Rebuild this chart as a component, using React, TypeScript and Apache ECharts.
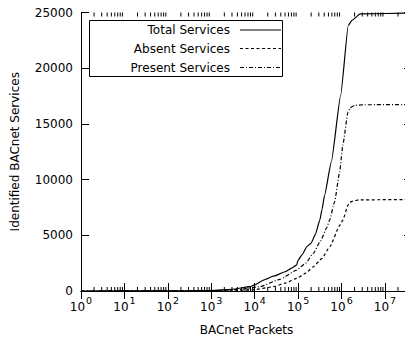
import React, { useEffect, useRef } from "react";
import * as echarts from "echarts";

const FONT = "DejaVu Sans";

// x: BACnet packets, y: identified services
const totalX = [1, 300, 1000, 3000, 7800, 10000, 16000, 28000, 50000, 71000, 93000, 100000, 126000, 158000, 200000, 251000, 316000, 355000, 407000, 582000, 955000, 1430000, 1740000, 2690000, 42000000];
const totalY = [0, 10, 40, 150, 385, 550, 985, 1350, 1730, 2050, 2350, 2780, 3300, 3970, 4300, 5100, 6362, 7300, 8600, 11585, 17560, 23834, 24300, 24880, 24950];

const absentX = [1, 3000, 10000, 27000, 50000, 93000, 150000, 224000, 350000, 537000, 912000, 1070000, 1410000, 1580000, 1820000, 2510000, 42000000];
const absentY = [0, 10, 120, 385, 700, 1138, 1600, 2177, 2900, 3970, 5900, 6362, 7706, 7980, 8064, 8180, 8216];

const presentX = [1, 1000, 4000, 13200, 38000, 93000, 150000, 224000, 330000, 457000, 531000, 692000, 906000, 1070000, 1410000, 1580000, 2000000, 3160000, 42000000];
const presentY = [0, 15, 120, 385, 1048, 1882, 2500, 3378, 4500, 5700, 6362, 8000, 10690, 13080, 16065, 16450, 16666, 16720, 16730];

const seriesNames = ["Total Services", "Absent Services", "Present Services"];
const xMin = 1;
const xMax = 42000000;
const yMin = 0;
const yMax = 25000;
const yStep = 5000;

const minorTicks: number[] = [];
for (let e = 0; e <= 7; e++) {
  for (let m = 2; m <= 9; m++) {
    const v = m * Math.pow(10, e);
    if (v < xMax) minorTicks.push(v);
  }
}

const zip = (xs: number[], ys: number[]) => xs.map((x, i) => [x, ys[i]]);

const dashes: any[] = ["solid", [3, 2.5], [4, 2, 1, 2]];

export default function App() {
  const ref = useRef<HTMLDivElement>(null);
  useEffect(() => {
    if (!ref.current) return;
    const chart = echarts.init(ref.current, null, { renderer: "svg" });
    const labelFmt = (v: number) => {
      const e = Math.round(Math.log10(v));
      if (Math.abs(Math.pow(10, e) - v) > 1e-6 * v) return "";
      return `10{s|${e}}`;
    };
    const legendRows = [30, 48.5, 67.5];
    const graphic: any[] = [
      {
        type: "rect",
        shape: { x: 89.5, y: 20.5, width: 193, height: 56 },
        style: { fill: "#fff", stroke: "#000", lineWidth: 1 },
        z: 100,
      },
    ];
    seriesNames.forEach((n, i) => {
      graphic.push({
        type: "text",
        x: 230,
        y: legendRows[i],
        style: { text: n, font: `12px '${FONT}'`, fill: "#000", align: "right", verticalAlign: "middle" },
        z: 101,
      });
      graphic.push({
        type: "line",
        shape: { x1: 240, y1: legendRows[i], x2: 281, y2: legendRows[i] },
        style: { stroke: "#000", lineWidth: 1.1, lineDash: dashes[i] === "solid" ? null : dashes[i] },
        z: 101,
      });
    });
    const xAxisBase: any = {
      type: "log",
      logBase: 10,
      min: xMin,
      max: xMax,
      axisLine: { lineStyle: { color: "#000", width: 1 } },
      axisTick: { inside: true, length: 8, lineStyle: { color: "#000" } },
      splitLine: { show: false },
    };
    const yAxisBase: any = {
      type: "value",
      min: yMin,
      max: yMax,
      interval: yStep,
      axisLine: { show: true, lineStyle: { color: "#000", width: 1 } },
      axisTick: { show: true, inside: true, length: 8, lineStyle: { color: "#000" } },
      splitLine: { show: false },
    };
    const lineSeries = [
      zip(totalX, totalY),
      zip(absentX, absentY),
      zip(presentX, presentY),
    ].map((d, i) => ({
      type: "line",
      name: seriesNames[i],
      data: d,
      showSymbol: false,
      symbol: "none",
      smooth: 0.15,
      smoothMonotone: "x",
      xAxisIndex: 0,
      yAxisIndex: 0,
      lineStyle: { color: "#000", width: 1.2, type: dashes[i] },
      z: 3,
    }));
    chart.setOption({
      animation: false,
      backgroundColor: "#fff",
      textStyle: { fontFamily: FONT },
      grid: { left: 81, top: 12.5, width: 331, height: 278.5, outerBoundsMode: "none", containLabel: false },
      xAxis: [
        {
          ...xAxisBase,
          position: "bottom",
          name: "BACnet Packets",
          nameLocation: "middle",
          nameGap: 33,
          nameTextStyle: { fontFamily: FONT, fontSize: 12, color: "#000" },
          axisLabel: {
            margin: 4,
            formatter: labelFmt,
            fontFamily: FONT,
            fontSize: 12,
            lineHeight: 24,
            color: "#000",
            showMaxLabel: false,
            rich: { s: { fontFamily: FONT, fontSize: 9.5, lineHeight: 9, verticalAlign: "top", color: "#000", padding: [0, 0, 0, 1] } },
          },
        },
        { ...xAxisBase, position: "top", axisLabel: { show: false } },
      ],
      yAxis: [
        {
          ...yAxisBase,
          position: "left",
          name: "Identified BACnet Services",
          nameLocation: "middle",
          nameGap: 60,
          nameTextStyle: { fontFamily: FONT, fontSize: 12, color: "#000" },
          axisLabel: { margin: 8, fontFamily: FONT, fontSize: 12, color: "#000", formatter: (v: number) => String(v) },
        },
        { ...yAxisBase, position: "right", axisLabel: { show: false } },
      ],
      series: [
        ...lineSeries,
        {
          type: "custom",
          xAxisIndex: 0,
          yAxisIndex: 0,
          data: minorTicks.map((v) => [v, 0]),
          encode: { x: 0, y: 1 },
          silent: true,
          z: 2,
          renderItem: (params: any, api: any) => {
            const x = api.value(0);
            const b = api.coord([x, yMin]);
            const t = api.coord([x, yMax]);
            return {
              type: "group",
              children: [
                { type: "line", shape: { x1: b[0], y1: b[1], x2: b[0], y2: b[1] - 4 }, style: { stroke: "#000", lineWidth: 1 } },
                { type: "line", shape: { x1: t[0], y1: t[1], x2: t[0], y2: t[1] + 4 }, style: { stroke: "#000", lineWidth: 1 } },
              ],
            };
          },
        },
      ],
      graphic,
    });
    return () => chart.dispose();
  }, []);
  return <div ref={ref} style={{ position: "fixed", left: 0, top: 0, width: 405, height: 342 }} />;
}
